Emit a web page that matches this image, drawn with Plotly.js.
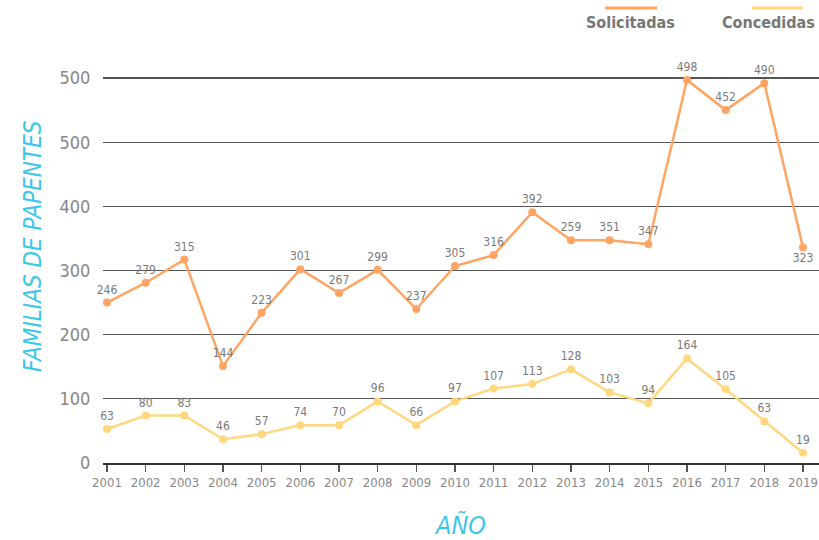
<!DOCTYPE html>
<html>
<head>
<meta charset="utf-8">
<script src="https://cdn.plot.ly/plotly-3.0.1.min.js"></script>
<style>html,body{margin:0;padding:0;background:#fff;}#chart{width:819px;height:540px;}</style>
</head>
<body>
<div id="chart"></div>
<script>
const years = [2001,2002,2003,2004,2005,2006,2007,2008,2009,2010,2011,2012,2013,2014,2015,2016,2017,2018,2019];
// plotted positions
const solicitadas = [250,281,317,151,234,302,265,301,240,307,324,391,347,347,341,597,550,592,336];
const concedidas = [53,74,74,37,45,59,59,96,59,96,116,123,146,110,93,163,115,65,16];
// value labels as printed on the picture
const solicitadasLabels = ['246','279','315','144','223','301','267','299','237','305','316','392','259','351','347','498','452','490','323'];
const concedidasLabels = ['63','80','83','46','57','74','70','96','66','97','107','113','128','103','94','164','105','63','19'];
const yTickVals = [0,100,200,300,400,500,600];
const yTickText = ['0','100','200','300','400','500','500'];
const seriesNames = ['Solicitadas','Concedidas'];
const xTitle = 'AÑO';
const yTitle = 'FAMILIAS DE PAPENTES';

const ORANGE = '#FFA463';
const YELLOW = '#FFD77F';
const CYAN = '#3CC7E8';
const FONT = '"DejaVu Sans Condensed", "Liberation Sans Narrow", Roboto, sans-serif';

const solPos = solicitadas.map((v,i)=> i===solicitadas.length-1 ? 'bottom center' : 'top center');

const traces = [
  {x: years, y: solicitadas, name: seriesNames[0], type:'scatter', mode:'lines+markers+text',
   text: solicitadasLabels, textposition: solPos,
   textfont:{family:FONT, size:12, color:'#7a7a7a'},
   line:{color:ORANGE, width:2.5}, marker:{color:ORANGE, size:8}, cliponaxis:false, hoverinfo:'skip'},
  {x: years, y: concedidas, name: seriesNames[1], type:'scatter', mode:'lines+markers+text',
   text: concedidasLabels, textposition:'top center',
   textfont:{family:FONT, size:12, color:'#7a7a7a'},
   line:{color:YELLOW, width:2.5}, marker:{color:YELLOW, size:8}, cliponaxis:false, hoverinfo:'skip'}
];

const PW = 716, PH = 386, ML = 103, MB = 77;
const px = x => (x - ML) / PW;
const py = y => (540 - MB - y) / PH;

const layout = {
  width:819, height:540,
  margin:{l:ML, r:0, t:77, b:MB},
  paper_bgcolor:'#fff', plot_bgcolor:'#fff',
  showlegend:false,
  font:{family:FONT, color:'#888'},
  xaxis:{
    range:[2000.897, 2019.414], tickvals: years, ticktext: years.map(String),
    showgrid:false, zeroline:false, showline:true, linecolor:'#333', linewidth:1.5,
    ticks:'outside', ticklen:7, tickcolor:'#555', tickwidth:1.5,
    tickfont:{family:FONT, size:13, color:'#888'},
    title:{text:xTitle, font:{family:FONT, size:25, color:CYAN, style:'italic'}, standoff:28}
  },
  yaxis:{
    range:[0, 601.6], tickvals: yTickVals, ticktext: yTickText,
    showgrid:true, gridcolor:'#555', gridwidth:1.3, zeroline:false, showline:false,
    ticks:'outside', ticklen:8, tickcolor:'rgba(0,0,0,0)',
    tickfont:{family:FONT, size:18, color:'#888'}
  },
  shapes:[
    {type:'line', xref:'paper', yref:'paper', x0:px(605), x1:px(657), y0:py(8), y1:py(8), line:{color:ORANGE, width:3}},
    {type:'line', xref:'paper', yref:'paper', x0:px(752), x1:px(803), y0:py(8), y1:py(8), line:{color:YELLOW, width:3}}
  ],
  annotations:[
    {xref:'paper', yref:'paper', x:px(630), y:py(23), text:seriesNames[0], showarrow:false, xanchor:'center', yanchor:'middle', font:{family:FONT, size:16, color:'#777', weight:'bold'}},
    {xref:'paper', yref:'paper', x:px(817), y:py(23), text:seriesNames[1], showarrow:false, xanchor:'right', yanchor:'middle', font:{family:FONT, size:16, color:'#777', weight:'bold'}},
    {xref:'paper', yref:'paper', x:px(33), y:py(246), text:yTitle, textangle:-90, showarrow:false, xanchor:'center', yanchor:'middle', font:{family:FONT, size:24, color:CYAN, style:'italic'}}
  ]
};

Plotly.newPlot('chart', traces, layout, {displayModeBar:false, staticPlot:true});
</script>
</body>
</html>
